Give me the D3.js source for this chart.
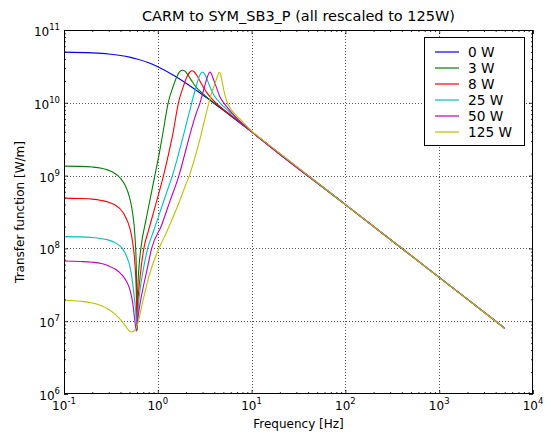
<!DOCTYPE html>
<html>
<head>
<meta charset="utf-8">
<script src="https://cdn.jsdelivr.net/npm/d3@7/dist/d3.min.js"></script>
<style>
  html, body { margin: 0; padding: 0; background: #fff; }
  svg { display: block; font-family: "DejaVu Sans", sans-serif; }
</style>
</head>
<body>
<svg id="chart" width="551" height="437"></svg>
<script>
// ---------------- data ----------------
const titleText = "CARM to SYM_SB3_P (all rescaled to 125W)";
const xLabelText = "Frequency [Hz]";
const yLabelText = "Transfer function [W/m]";

const seriesNames = ["0 W", "3 W", "8 W", "25 W", "50 W", "125 W"];
const seriesColors = ["#0000ff", "#008000", "#ff0000", "#00bfbf", "#bf00bf", "#bfbf00"];

const xTickExps = [-1, 0, 1, 2, 3, 4];
const yTickExps = [6, 7, 8, 9, 10, 11];

// [frequency Hz, transfer function W/m]
const p0W = [[0.1,4.96e10],[0.2,4.85e10],[0.3,4.68e10],[0.4,4.47e10],[0.5,4.24e10],[0.6,4.0e10],
  [0.8,3.54e10],[1.0,3.12e10],[1.5,2.35e10],[2,1.86e10],[3,1.29e10],[4,9.8e9],[6,6.6e9],
  [10,4.0e9],[100,4.0e8],[1000,4.0e7],[5000,8.0e6]];

const p3W = [[0.1,1.35e9],[0.15,1.34e9],[0.2,1.31e9],[0.25,1.26e9],[0.3,1.18e9],[0.35,1.07e9],
  [0.4,9.2e8],[0.45,7.3e8],[0.5,5.0e8],[0.54,3.0e8],[0.57,1.5e8],[0.59,5.5e7],[0.6,7.5e6],
  [0.61,2.5e7],[0.63,5.5e7],[0.66,1.0e8],[0.75,2.5e8],[0.84,5.2e8],[0.93,1.0e9],[1.05,2.2e9],
  [1.15,4.3e9],[1.29,1.0e10],[1.45,1.65e10],[1.6,2.3e10],[1.72,2.7e10],[1.84,2.8e10],
  [1.96,2.7e10],[2.1,2.4e10],[2.3,2.0e10],[2.6,1.6e10],[3.0,1.35e10],[3.5,1.13e10],
  [4.0,1.0e10],[5,8.1e9],[6,6.75e9],[7.5,5.4e9],[10,4.0e9],[100,4.0e8],[1000,4.0e7],[5000,8.0e6]];

const p8W = [[0.1,4.9e8],[0.15,4.85e8],[0.2,4.75e8],[0.25,4.55e8],[0.3,4.3e8],[0.35,3.95e8],
  [0.4,3.45e8],[0.45,2.75e8],[0.5,1.95e8],[0.54,1.2e8],[0.57,6.2e7],[0.59,2.5e7],[0.6,7.5e6],
  [0.61,1.5e7],[0.64,3.5e7],[0.67,6.0e7],[0.71,1.0e8],[0.8,1.8e8],[0.95,4.0e8],[1.15,1.0e9],
  [1.3,1.96e9],[1.45,3.8e9],[1.66,1.0e10],[1.85,1.6e10],[2.05,2.3e10],[2.2,2.65e10],
  [2.32,2.75e10],[2.45,2.65e10],[2.65,2.3e10],[2.9,1.85e10],[3.3,1.4e10],[3.8,1.12e10],
  [4.5,9.1e9],[5.5,7.3e9],[7,5.8e9],[10,4.0e9],[100,4.0e8],[1000,4.0e7],[5000,8.0e6]];

const p25W = [[0.1,1.45e8],[0.15,1.44e8],[0.2,1.41e8],[0.25,1.36e8],[0.3,1.3e8],[0.35,1.2e8],
  [0.4,1.06e8],[0.43,9.5e7],[0.47,7.5e7],[0.505,5.6e7],[0.55,2.7e7],[0.58,1.4e7],[0.6,7.5e6],
  [0.62,1.6e7],[0.65,2.8e7],[0.69,4.6e7],[0.78,1.0e8],[0.9,1.72e8],[1.05,3.1e8],[1.25,6.0e8],
  [1.43,1.0e9],[1.65,1.91e9],[1.9,3.8e9],[2.1,6.3e9],[2.3,1.0e10],[2.5,1.5e10],[2.7,2.1e10],
  [2.85,2.5e10],[3.0,2.65e10],[3.15,2.5e10],[3.35,2.1e10],[3.6,1.65e10],[4.0,1.25e10],
  [4.6,1.0e10],[5.5,8.0e9],[7,6.0e9],[10,4.05e9],[100,4.0e8],[1000,4.0e7],[5000,8.0e6]];

const p50W = [[0.1,6.7e7],[0.15,6.6e7],[0.2,6.45e7],[0.25,6.2e7],[0.3,5.75e7],[0.35,5.2e7],
  [0.4,4.55e7],[0.43,4.1e7],[0.47,3.4e7],[0.505,2.7e7],[0.54,1.8e7],[0.57,1.0e7],[0.59,7.3e6],
  [0.61,1.05e7],[0.64,1.6e7],[0.69,2.7e7],[0.76,4.8e7],[0.86,1.0e8],[1.1,2.1e8],[1.35,4.5e8],
  [1.68,1.0e9],[2.0,2.3e9],[2.3,4.5e9],[2.55,7.0e9],[2.82,1.0e10],[3.1,1.55e10],[3.35,2.2e10],
  [3.5,2.55e10],[3.6,2.65e10],[3.75,2.45e10],[3.95,2.05e10],[4.25,1.58e10],[4.6,1.2e10],
  [5.2,9.5e9],[6.2,7.2e9],[7.5,5.6e9],[10,4.05e9],[100,4.0e8],[1000,4.0e7],[5000,8.0e6]];

const p125W = [[0.1,1.94e7],[0.15,1.88e7],[0.2,1.78e7],[0.25,1.63e7],[0.3,1.45e7],[0.35,1.25e7],
  [0.4,1.05e7],[0.45,8.7e6],[0.5,7.3e6],[0.53,7.15e6],[0.56,7.4e6],[0.585,7.9e6],[0.6,8.6e6],
  [0.62,1.0e7],[0.7,2.0e7],[0.8,4.0e7],[0.9,6.5e7],[1.03,1.0e8],[1.26,1.75e8],[1.585,3.5e8],
  [2.0,7.65e8],[2.17,1.0e9],[2.51,1.85e9],[2.82,3.2e9],[3.16,5.85e9],[3.5,1.0e10],[3.8,1.45e10],
  [4.07,1.84e10],[4.32,2.3e10],[4.5,2.63e10],[4.65,2.5e10],[4.8,2.1e10],[5.08,1.45e10],
  [5.43,1.05e10],[6.1,8.0e9],[7.5,6.0e9],[10,4.1e9],[12.3,3.3e9],[20,2.02e9],[100,4.0e8],
  [1000,4.0e7],[5000,8.0e6]];

const seriesData = [p0W, p3W, p8W, p25W, p50W, p125W];

// ---------------- layout ----------------
const plot = { left: 64, right: 533, top: 30, bottom: 394 };
const svg = d3.select("#chart");

const x = d3.scaleLog().domain([1e-1, 1e4]).range([plot.left, plot.right]);
const y = d3.scaleLog().domain([1e6, 1e11]).range([plot.bottom, plot.top]);

const majorX = xTickExps.map(e => Math.pow(10, e));
const majorY = yTickExps.map(e => Math.pow(10, e));
function minorTicks(exps) {
  const out = [];
  for (let i = 0; i < exps.length - 1; i++)
    for (let k = 2; k <= 9; k++) out.push(k * Math.pow(10, exps[i]));
  return out;
}
const minorX = minorTicks(xTickExps);
const minorY = minorTicks(yTickExps);

svg.append("rect").attr("width", 551).attr("height", 437).attr("fill", "#fff");

// grid
const grid = svg.append("g").attr("stroke", "#000").attr("stroke-width", 0.8)
  .attr("stroke-dasharray", "1,2").attr("stroke-opacity", 0.85);
grid.selectAll("line.gx").data(majorX.slice(1, -1)).join("line")
  .attr("x1", d => Math.round(x(d)) + 0.5).attr("x2", d => Math.round(x(d)) + 0.5)
  .attr("y1", plot.top).attr("y2", plot.bottom);
grid.selectAll("line.gy").data(majorY.slice(1, -1)).join("line")
  .attr("y1", d => Math.round(y(d)) + 0.5).attr("y2", d => Math.round(y(d)) + 0.5)
  .attr("x1", plot.left).attr("x2", plot.right);

// curves
svg.append("clipPath").attr("id", "clip").append("rect")
  .attr("x", plot.left).attr("y", plot.top)
  .attr("width", plot.right - plot.left).attr("height", plot.bottom - plot.top);
const line = d3.line().x(d => x(d[0])).y(d => y(d[1])).curve(d3.curveMonotoneX);
svg.append("g").attr("clip-path", "url(#clip)")
  .selectAll("path").data(seriesData).join("path")
  .attr("d", line).attr("fill", "none")
  .attr("stroke", (d, i) => seriesColors[i]).attr("stroke-width", 1.1);

// axes with inward ticks on all sides
function addAxis(axisFn, scale, transform, majors, minors) {
  svg.append("g").attr("transform", transform)
    .call(axisFn(scale).tickValues(majors).tickSize(-4).tickFormat(""))
    .call(g => g.select(".domain").remove());
  svg.append("g").attr("transform", transform)
    .call(axisFn(scale).tickValues(minors).tickSize(-2).tickFormat(""))
    .call(g => g.select(".domain").remove());
}
addAxis(d3.axisBottom, x, `translate(0,${plot.bottom})`, majorX, minorX);
addAxis(d3.axisTop, x, `translate(0,${plot.top})`, majorX, minorX);
addAxis(d3.axisLeft, y, `translate(${plot.left},0)`, majorY, minorY);
addAxis(d3.axisRight, y, `translate(${plot.right},0)`, majorY, minorY);
svg.selectAll(".tick line").attr("stroke", "#000").attr("stroke-width", 0.8);

svg.append("rect").attr("x", plot.left + 0.5).attr("y", plot.top + 0.5)
  .attr("width", plot.right - plot.left - 1).attr("height", plot.bottom - plot.top - 1)
  .attr("fill", "none").attr("stroke", "#000").attr("stroke-width", 1);

// tick labels
const xl = svg.append("g").attr("font-size", 12).attr("fill", "#000");
xTickExps.forEach((e, i) => {
  const t = xl.append("text").attr("x", x(majorX[i])).attr("y", plot.bottom + 16)
    .attr("text-anchor", "middle");
  t.append("tspan").text("10");
  t.append("tspan").attr("dy", -6).attr("font-size", 8.5).text(String(e));
});
const yl = svg.append("g").attr("font-size", 12).attr("fill", "#000");
yTickExps.forEach((e, i) => {
  const t = yl.append("text").attr("x", plot.left - 4).attr("y", y(majorY[i]) + 6)
    .attr("text-anchor", "end");
  t.append("tspan").text("10");
  t.append("tspan").attr("dy", -6).attr("font-size", 8.5).text(String(e));
});

// labels
svg.append("text").attr("x", (plot.left + plot.right) / 2).attr("y", 21)
  .attr("text-anchor", "middle").attr("font-size", 14.5).text(titleText);
svg.append("text").attr("x", (plot.left + plot.right) / 2).attr("y", 428)
  .attr("text-anchor", "middle").attr("font-size", 12).text(xLabelText);
svg.append("text").attr("transform", `translate(24,${(plot.top + plot.bottom) / 2}) rotate(-90)`)
  .attr("text-anchor", "middle").attr("font-size", 12).text(yLabelText);

// legend
const lg = svg.append("g");
lg.append("rect").attr("x", 424.5).attr("y", 37.5).attr("width", 100).attr("height", 108)
  .attr("fill", "#fff").attr("stroke", "#000").attr("stroke-width", 1);
seriesNames.forEach((n, i) => {
  const yy = 51.5 + i * 16;
  lg.append("line").attr("x1", 435).attr("x2", 459).attr("y1", yy + 0.5).attr("y2", yy + 0.5)
    .style("stroke", seriesColors[i]).attr("stroke-width", 1.2);
  lg.append("text").attr("x", 468).attr("y", yy + 5).attr("font-size", 13.7).text(n);
});
</script>
</body>
</html>
